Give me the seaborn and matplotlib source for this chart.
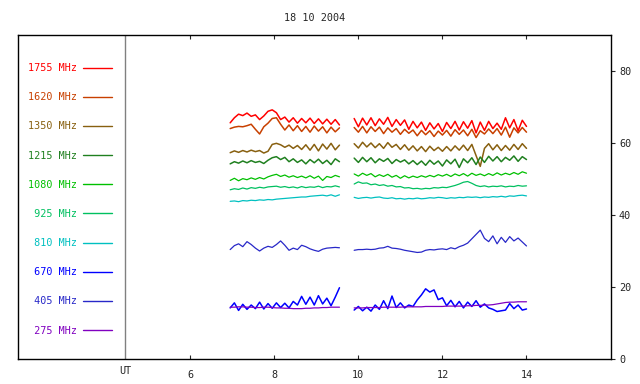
"""
Radio flux record, 18 10 2004 - ten frequency channels over UT.
"""

import pandas as pd
import matplotlib
matplotlib.use("Agg")
import matplotlib.pyplot as plt
from matplotlib.lines import Line2D
import seaborn as sns

# ==========================================
# DATA
# ==========================================
freqs = ["1755", "1620", "1350", "1215", "1080", "925", "810", "670", "405", "275"]
colors = ["#ff0000", "#c84000", "#886010", "#208020", "#00c000",
          "#00c060", "#00c0c0", "#0000ff", "#2828c8", "#8000c0"]

# two observing blocks (UT hours)
t_a = [6.95, 7.05, 7.15, 7.25, 7.35, 7.45, 7.55, 7.65, 7.75, 7.85, 7.95, 8.05, 8.15, 8.25,
       8.35, 8.45, 8.55, 8.65, 8.75, 8.85, 8.95, 9.05, 9.15, 9.25, 9.35, 9.45, 9.55]
t_b = [9.9, 10.0, 10.1, 10.2, 10.3, 10.4, 10.5, 10.6, 10.7, 10.8, 10.9, 11.0, 11.1, 11.2,
       11.3, 11.4, 11.5, 11.6, 11.7, 11.8, 11.9, 12.0, 12.1, 12.2, 12.3, 12.4, 12.5, 12.6,
       12.7, 12.8, 12.9, 13.0, 13.1, 13.2, 13.3, 13.4, 13.5, 13.6, 13.7, 13.8, 13.9, 14.0]

f1755_a = [65.6, 67.0, 68.0, 67.6, 68.3, 67.4, 67.8, 66.5, 67.5, 68.8, 69.2, 68.4, 66.5, 67.2,
           65.8, 67.0, 65.5, 66.8, 65.6, 66.9, 65.4, 66.7, 65.3, 66.6, 65.2, 66.5, 65.0]
f1755_b = [66.8, 64.5, 66.9, 65.0, 67.0, 64.8, 66.7, 65.2, 67.1, 64.6, 66.5, 64.9, 66.4, 63.8,
           66.0, 64.2, 65.8, 63.5, 65.6, 63.9, 65.4, 63.2, 65.7, 64.0, 66.0, 63.6, 65.9, 64.1,
           66.2, 62.8, 65.8, 63.5, 66.0, 64.0, 65.5, 63.8, 67.0, 64.2, 66.5, 63.4, 66.3, 64.6]

f1620_a = [64.0, 64.4, 64.6, 64.5, 64.8, 65.2, 63.8, 62.5, 64.5, 65.5, 66.8, 67.0, 65.2, 63.6,
           65.0, 63.4, 64.8, 63.2, 64.6, 63.0, 64.7, 63.3, 64.5, 62.8, 64.4, 63.1, 64.2]
f1620_b = [64.3, 63.0, 64.6, 62.8, 64.5, 63.2, 64.4, 62.6, 64.2, 63.0, 64.0, 62.4, 63.8, 62.7,
           63.6, 62.0, 63.5, 62.3, 63.4, 61.8, 63.3, 62.2, 63.5, 61.9, 63.7, 62.4, 63.6, 62.0,
           63.8, 61.5, 63.4, 62.5, 63.9, 62.6, 64.0, 62.2, 64.4, 61.6, 64.2, 62.8, 64.3, 63.0]

f1350_a = [57.3, 57.8, 57.4, 57.9, 57.5, 58.0, 57.6, 57.9, 57.2, 57.7, 59.6, 59.9, 59.5, 58.8,
           59.4, 58.5, 59.3, 58.2, 59.5, 58.0, 59.6, 57.8, 59.7, 58.3, 59.9, 58.1, 59.4]
f1350_b = [59.8, 58.6, 60.2, 58.9, 60.0, 58.7, 59.8, 58.5, 60.1, 58.8, 59.6, 58.2, 59.5, 58.0,
           59.2, 57.8, 59.0, 57.6, 59.1, 57.9, 58.8, 57.7, 59.0, 57.8, 59.2, 58.0, 59.4, 57.9,
           59.6, 56.5, 53.5, 58.5, 59.8, 58.1, 59.5, 57.9, 59.3, 58.0, 59.6, 58.2, 59.8, 58.5]

f1215_a = [54.2, 54.8, 54.4, 55.0, 54.5, 55.1, 54.6, 54.9, 54.3, 55.2, 55.9, 56.2, 55.4, 56.0,
           54.8, 55.6, 54.6, 55.3, 54.2, 55.4, 54.5, 55.5, 54.3, 55.2, 54.0, 55.6, 54.8]
f1215_b = [55.8, 54.6, 56.0, 54.8, 55.9, 54.5, 55.6, 54.9, 55.7, 54.3, 55.4, 54.7, 55.3, 54.2,
           55.1, 54.0, 55.0, 53.8, 55.2, 54.1, 55.0, 53.6, 55.3, 54.2, 55.5, 53.2, 55.6, 54.5,
           55.9, 54.0, 56.1, 54.6, 56.3, 55.0, 56.2, 54.8, 56.0, 55.2, 56.4, 54.9, 56.2, 55.4]

f1080_a = [49.6, 50.2, 49.5, 50.1, 49.8, 50.3, 49.9, 50.4, 50.0, 50.6, 51.0, 51.3, 50.7, 51.1,
           50.5, 50.9, 50.4, 50.8, 50.3, 50.9, 50.2, 50.8, 49.6, 50.7, 50.4, 51.0, 50.6]
f1080_b = [51.4, 50.8, 51.6, 51.0, 51.5, 50.6, 51.2, 50.7, 51.3, 50.5, 51.0, 50.2, 50.9, 50.3,
           50.8, 50.4, 50.9, 50.5, 51.0, 50.6, 51.2, 50.8, 51.3, 50.7, 51.4, 50.9, 51.5, 50.8,
           51.6, 51.0, 51.4, 50.9, 51.5, 51.0, 51.7, 51.1, 51.6, 51.2, 51.8, 51.3, 52.0, 51.6]

f925_a = [47.0, 47.3, 47.1, 47.5, 47.2, 47.6, 47.4, 47.7, 47.5, 47.8, 47.9, 48.0, 47.7, 47.9,
          47.6, 47.8, 47.5, 47.9, 47.6, 47.8, 47.7, 48.0, 47.6, 47.9, 47.8, 48.1, 47.8]
f925_b = [48.6, 49.2, 48.8, 48.9, 48.4, 48.6, 48.2, 48.4, 48.0, 48.2, 47.8, 47.9, 47.5, 47.6,
          47.3, 47.4, 47.2, 47.4, 47.3, 47.6, 47.5, 47.7, 47.6, 47.9, 48.2, 48.6, 49.1, 49.3,
          48.8, 48.2, 47.9, 48.1, 47.8, 48.0, 47.9, 48.1, 47.8, 48.0, 47.9, 48.2, 48.0, 48.1]

f810_a = [43.8, 43.9, 43.7, 44.0, 43.9, 44.1, 44.0, 44.2, 44.1, 44.3, 44.2, 44.4, 44.5, 44.6,
          44.7, 44.8, 44.9, 45.0, 45.0, 45.2, 45.3, 45.4, 45.5, 45.3, 45.6, 45.2, 45.6]
f810_b = [44.9, 44.6, 44.8, 44.9, 44.7, 44.9, 45.0, 44.7, 44.6, 44.8, 44.5, 44.6, 44.4, 44.6,
          44.5, 44.7, 44.5, 44.6, 44.8, 44.7, 44.9, 44.8, 44.6, 44.8, 44.7, 44.9, 44.8, 45.0,
          44.9, 45.0, 44.8, 45.0, 44.9, 45.1, 45.0, 45.2, 45.0, 45.3, 45.2, 45.4, 45.5, 45.3]

f670_a = [14.2, 15.6, 13.5, 15.2, 13.8, 15.0, 14.0, 15.8, 13.9, 15.4, 14.1, 15.6, 14.3, 15.5,
          14.2, 16.0, 15.0, 17.4, 15.2, 17.2, 15.0, 17.6, 15.3, 16.9, 14.8, 17.2, 19.8]
f670_b = [13.6, 14.6, 13.4, 14.4, 13.3, 15.0, 13.8, 16.2, 14.0, 17.5, 14.3, 15.6, 14.2, 15.0,
          14.6, 16.4, 17.8, 19.5, 18.6, 19.2, 16.5, 17.0, 14.8, 16.3, 14.5, 16.0, 14.2, 15.8,
          14.6, 16.2, 14.4, 15.3, 14.2, 13.8, 13.2, 13.4, 13.6, 15.4, 14.0, 15.0, 13.6, 13.9]

f405_a = [30.4, 31.5, 32.0, 31.2, 32.6, 31.8, 30.8, 30.0, 30.8, 31.3, 31.0, 31.8, 32.8, 31.6,
          30.2, 30.8, 30.4, 31.6, 31.2, 30.6, 30.2, 29.9, 30.5, 30.8, 30.9, 31.0, 30.9]
f405_b = [30.2, 30.4, 30.4, 30.5, 30.4, 30.5, 30.8, 30.9, 31.3, 30.8, 30.7, 30.5, 30.2, 30.0,
          29.8, 29.6, 29.7, 30.2, 30.4, 30.3, 30.5, 30.6, 30.4, 30.9, 30.6, 31.2, 31.6, 32.2,
          33.4, 34.6, 35.8, 33.5, 32.6, 34.2, 32.0, 33.8, 32.4, 34.0, 32.8, 33.6, 32.5, 31.4]

f275_a = [14.4, 14.4, 14.5, 14.5, 14.4, 14.4, 14.3, 14.3, 14.4, 14.4, 14.3, 14.2, 14.2, 14.1,
          14.1, 14.0, 14.0, 14.0, 14.1, 14.1, 14.2, 14.2, 14.3, 14.3, 14.4, 14.4, 14.4]
f275_b = [14.2, 14.2, 14.2, 14.3, 14.3, 14.3, 14.3, 14.4, 14.4, 14.4, 14.4, 14.4, 14.5, 14.5,
          14.5, 14.5, 14.5, 14.6, 14.6, 14.6, 14.6, 14.6, 14.7, 14.7, 14.7, 14.7, 14.7, 14.8,
          14.8, 14.9, 14.9, 15.0, 15.0, 15.1, 15.3, 15.5, 15.7, 15.8, 15.8, 15.9, 15.9, 15.9]

blocks = {
    "1755": (f1755_a, f1755_b), "1620": (f1620_a, f1620_b), "1350": (f1350_a, f1350_b),
    "1215": (f1215_a, f1215_b), "1080": (f1080_a, f1080_b), "925": (f925_a, f925_b),
    "810": (f810_a, f810_b), "670": (f670_a, f670_b), "405": (f405_a, f405_b),
    "275": (f275_a, f275_b),
}

rows = []
for f in freqs:
    a, b = blocks[f]
    rows += [(f, 0, t, v) for t, v in zip(t_a, a)]
    rows += [(f, 1, t, v) for t, v in zip(t_b, b)]
df = pd.DataFrame(rows, columns=["freq", "block", "UT", "flux"])

# ==========================================
# PLOT
# ==========================================
sns.set_style("ticks")
plt.rcParams["font.family"] = ["DejaVu Sans Mono"]
fs = 7.3

fig = plt.figure(figsize=(6.4, 3.84), dpi=100)
ax = fig.add_axes([0.028, 0.065, 0.926, 0.844])

palette = dict(zip(freqs, colors))
noisy = {"1755", "1620", "1350", "1215", "670"}
draw_order = ["1620", "1755", "1350", "1215", "1080", "925", "810", "405", "670", "275"]
for f in draw_order:
    sub = df[df["freq"] == f]
    sns.lineplot(data=sub, x="UT", y="flux", units="block", estimator=None,
                 color=palette[f], lw=1.1 if f in noisy else 0.9, ax=ax)

ax.axvline(4.45, color="#808080", lw=1)

ax.set_xlim(1.9, 16.0)
ax.set_ylim(0, 90)
ax.set_xticks([6, 8, 10, 12, 14])
ax.set_yticks([0, 20, 40, 60, 80])
ax.yaxis.tick_right()
ax.tick_params(axis="x", direction="in", top=True, bottom=True, length=3,
               width=0.8, labelsize=fs, pad=8)
ax.tick_params(axis="y", direction="out", right=True, left=False, length=3,
               width=0.8, labelsize=fs, pad=3)
for s in ax.spines.values():
    s.set_color("black")
    s.set_linewidth(1)
ax.set_xlabel("")
ax.set_ylabel("")
ax.text(4.45, -0.022, "UT", transform=ax.get_xaxis_transform(),
        ha="center", va="top", fontsize=fs)
ax.set_title("18 10 2004", fontsize=fs, pad=10)

handles = [Line2D([], [], color=c, lw=1) for c in colors]
labels = [f"{f:>4} MHz" for f in freqs]
ax.legend(handles, labels, loc="upper left", bbox_to_anchor=(0.0169, 0.913),
          frameon=False, markerfirst=False, labelcolor="linecolor", fontsize=fs,
          handlelength=2.9, handletextpad=0.6, labelspacing=1.89,
          borderpad=0, borderaxespad=0)

fig.savefig("out.png", dpi=100, facecolor="white")
